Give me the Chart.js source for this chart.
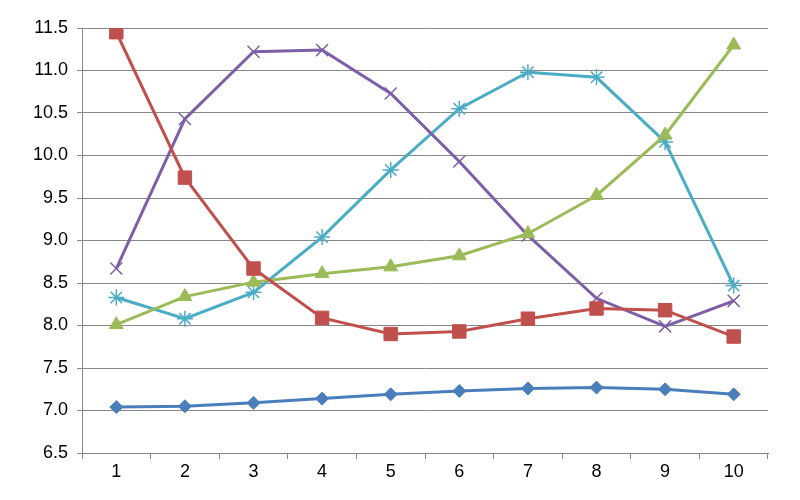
<!DOCTYPE html>
<html><head><meta charset="utf-8">
<script src="https://cdn.jsdelivr.net/npm/chart.js@4"></script>
<style>html,body{margin:0;padding:0;background:#fff;}#wrap{width:800px;height:500px;}</style>
</head><body><div id="wrap"><canvas id="c" width="800" height="500"></canvas></div>
<script>
const categories = ['1','2','3','4','5','6','7','8','9','10'];
const blueSeries   = [7.04, 7.05, 7.09, 7.14, 7.19, 7.23, 7.26, 7.27, 7.25, 7.19];
const redSeries    = [11.45, 9.74, 8.67, 8.09, 7.90, 7.93, 8.08, 8.20, 8.18, 7.87];
const greenSeries  = [8.01, 8.34, 8.51, 8.61, 8.69, 8.82, 9.08, 9.53, 10.24, 11.30];
const purpleSeries = [8.67, 10.43, 11.22, 11.24, 10.73, 9.93, 9.06, 8.32, 7.99, 8.29];
const cyanSeries   = [8.33, 8.08, 8.39, 9.04, 9.83, 10.55, 10.98, 10.92, 10.16, 8.47];
const yTicks = [6.5, 7.0, 7.5, 8.0, 8.5, 9.0, 9.5, 10.0, 10.5, 11.0, 11.5];

function ds(data, color, style, r) {
  return {data, borderColor: color, backgroundColor: color, borderWidth: 3,
    pointStyle: style, pointRadius: r, pointHoverRadius: r, pointBorderWidth: (style==='crossRot'||style==='star')?1.5:1,
    tension: 0, fill: false};
}
new Chart(document.getElementById('c'), {
  type: 'line',
  data: {labels: categories, datasets: [
    ds(blueSeries, '#4A7EBB', 'rectRot', 6.5),
    ds(redSeries, '#C0504D', 'rect', 9.5),
    ds(greenSeries, '#9BBB59', 'triangle', 8),
    ds(purpleSeries, '#7D5FA5', 'crossRot', 8.5),
    ds(cyanSeries, '#4BACC6', 'star', 8)
  ]},
  options: {
    responsive: false, animation: false, devicePixelRatio: 1,
    layout: {padding: {left: 0, right: 32, top: 28, bottom: 0}},
    plugins: {legend: {display: false}, tooltip: {enabled: false}},
    scales: {
      x: {offset: true,
        grid: {offset: true, drawOnChartArea: false, drawTicks: true, tickLength: 6, color: '#888'},
        border: {color: '#888', width: 1},
        ticks: {color: '#000', font: {family: 'Liberation Sans, Arial', size: 18}, padding: 2, maxRotation: 0},
        afterFit: s => { s.height = 47; }
      },
      y: {min: 6.5, max: 11.5,
        afterBuildTicks: s => { s.ticks = yTicks.map(v => ({value: v})); },
        grid: {color: '#888', tickLength: 5, lineWidth: 1},
        border: {color: '#888', width: 1},
        ticks: {color: '#000', font: {family: 'Liberation Sans, Arial', size: 18}, padding: 9,
          callback: v => Number(v).toFixed(1)},
        afterFit: s => { s.width = 82; }
      }
    }
  }
});
</script></body></html>
